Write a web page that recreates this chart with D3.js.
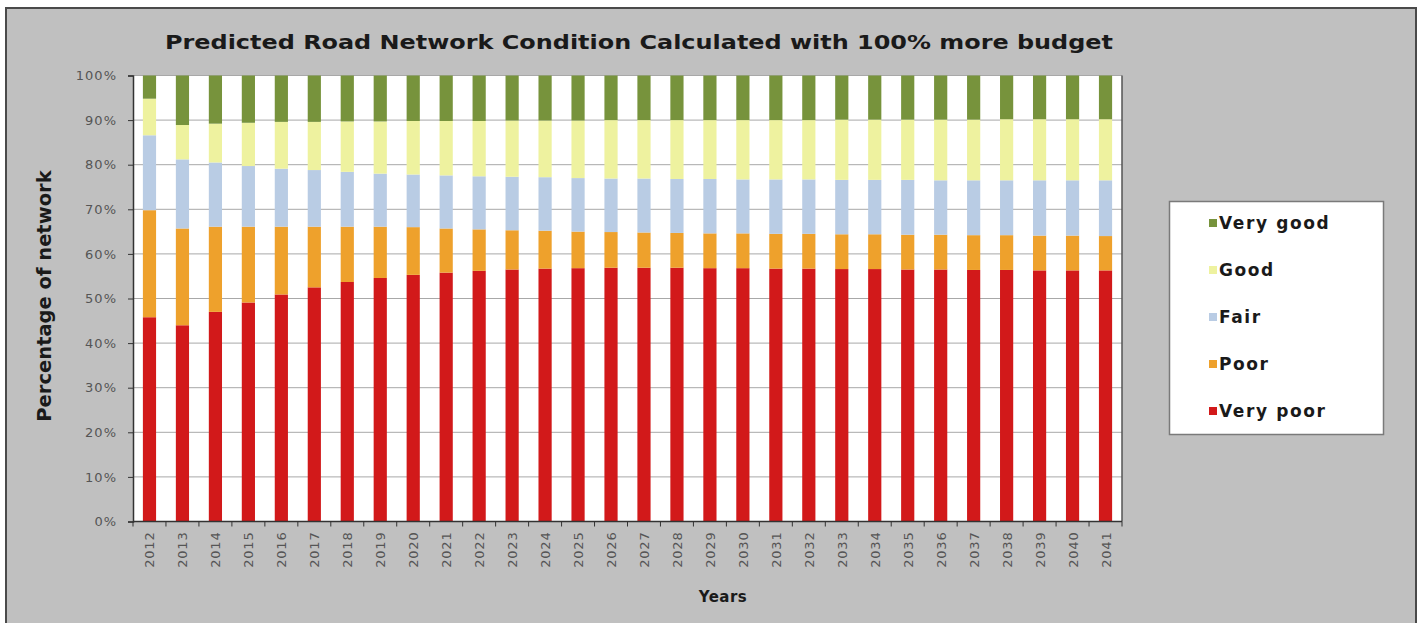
<!DOCTYPE html>
<html>
<head>
<meta charset="utf-8">
<script src="https://cdnjs.cloudflare.com/ajax/libs/d3/7.8.5/d3.min.js"></script>
<style>
  html, body { margin: 0; padding: 0; background: #ffffff; }
  svg { display: block; }
</style>
</head>
<body>
<svg id="chart" width="1421" height="623"></svg>
<script>
// Road network condition shares (% of network) per year
const years = d3.range(2012, 2042).map(String);

const veryPoor = [45.8, 44.0, 47.0, 49.1, 50.9, 52.5, 53.7, 54.6, 55.3, 55.8,
                  56.2, 56.5, 56.7, 56.8, 56.9, 56.9, 56.9, 56.8, 56.8, 56.7,
                  56.7, 56.6, 56.6, 56.5, 56.5, 56.4, 56.4, 56.3, 56.3, 56.3];
const poor     = [24.0, 21.7, 19.1, 17.0, 15.2, 13.6, 12.4, 11.5, 10.7, 9.9,
                  9.3, 8.8, 8.5, 8.2, 8.0, 7.9, 7.8, 7.8, 7.8, 7.8,
                  7.8, 7.8, 7.8, 7.8, 7.8, 7.8, 7.8, 7.8, 7.8, 7.7];
const fair     = [16.8, 15.5, 14.4, 13.6, 13.0, 12.7, 12.3, 11.9, 11.8, 11.9,
                  11.9, 12.0, 12.0, 12.0, 12.0, 12.1, 12.1, 12.2, 12.1, 12.2,
                  12.2, 12.2, 12.2, 12.3, 12.2, 12.3, 12.3, 12.4, 12.4, 12.5];
const good     = [8.2, 7.7, 8.7, 9.7, 10.5, 10.8, 11.3, 11.7, 12.0, 12.2,
                  12.4, 12.6, 12.7, 12.9, 13.1, 13.1, 13.2, 13.2, 13.3, 13.3,
                  13.3, 13.5, 13.5, 13.5, 13.6, 13.6, 13.7, 13.7, 13.7, 13.7];
const veryGood = [5.2, 11.1, 10.8, 10.6, 10.4, 10.4, 10.3, 10.3, 10.2, 10.2,
                  10.2, 10.1, 10.1, 10.1, 10.0, 10.0, 10.0, 10.0, 10.0, 10.0,
                  10.0, 9.9, 9.9, 9.9, 9.9, 9.9, 9.8, 9.8, 9.8, 9.8];

const seriesNames = ["Very poor", "Poor", "Fair", "Good", "Very good"];
const seriesValues = [veryPoor, poor, fair, good, veryGood];
const seriesColors = ["#d2191a", "#eea12c", "#b9cce4", "#eef29f", "#77933c"];
const yTicks = [0, 10, 20, 30, 40, 50, 60, 70, 80, 90, 100];

const titleText = "Predicted Road Network Condition Calculated with 100% more budget";
const yTitle = "Percentage of network";
const xTitle = "Years";

// Table for d3.stack
const rows = years.map((yr, i) => {
  const r = { year: yr };
  seriesNames.forEach((n, k) => { r[n] = seriesValues[k][i]; });
  return r;
});

const FONT = "'DejaVu Sans', Verdana, sans-serif";
const svg = d3.select("#chart");
const W = 1421, H = 623;

// Outer chart frame
svg.append("rect").attr("x", 0).attr("y", 0).attr("width", W).attr("height", H).attr("fill", "#ffffff");
svg.append("rect").attr("x", 6).attr("y", 8).attr("width", 1410).attr("height", 620)
  .attr("fill", "#c0c0c0").attr("stroke", "#4a4a4a").attr("stroke-width", 2);

const plot = { left: 133, right: 1122, top: 75.5, bottom: 521.5 };

const x = d3.scaleBand().domain(years).range([plot.left, plot.right]).paddingInner(0.6).paddingOuter(0.3);
const xCat = d3.scaleBand().domain(years).range([plot.left, plot.right]);
const y = d3.scaleLinear().domain([0, 100]).range([plot.bottom, plot.top]);

// Plot area
svg.append("rect")
  .attr("x", plot.left).attr("y", plot.top)
  .attr("width", plot.right - plot.left).attr("height", plot.bottom - plot.top)
  .attr("fill", "#ffffff");

// Gridlines
svg.append("g")
  .selectAll("line")
  .data(yTicks)
  .join("line")
  .attr("x1", plot.left).attr("x2", plot.right)
  .attr("y1", d => y(d)).attr("y2", d => y(d))
  .attr("stroke", "#a8a8a8").attr("stroke-width", 1);

// Stacked bars
const stack = d3.stack().keys(seriesNames);
const layers = stack(rows);

svg.append("g")
  .selectAll("g")
  .data(layers)
  .join("g")
  .attr("fill", (d, i) => seriesColors[i])
  .selectAll("rect")
  .data(d => d)
  .join("rect")
  .attr("x", d => x(d.data.year))
  .attr("width", x.bandwidth())
  .attr("y", d => y(d[1]))
  .attr("height", d => y(d[0]) - y(d[1]));

// Right border of plot area
svg.append("line")
  .attr("x1", plot.right).attr("x2", plot.right)
  .attr("y1", plot.top).attr("y2", plot.bottom)
  .attr("stroke", "#555555").attr("stroke-width", 1.5);

// Y axis
const yAxis = d3.axisLeft(y).tickValues(yTicks).tickFormat(d => d + "%").tickSize(5).tickPadding(11);
const gy = svg.append("g").attr("transform", `translate(${plot.left},0)`).call(yAxis);
gy.select(".domain").attr("stroke", "#333333").attr("stroke-width", 1.5);
gy.selectAll(".tick line").attr("stroke", "#333333");
gy.selectAll(".tick text")
  .attr("fill", "#555555")
  .style("font-family", FONT)
  .style("font-size", "13px")
  .style("letter-spacing", "1px");

// X axis: ticks at category boundaries
const gx = svg.append("g").attr("transform", `translate(0,${plot.bottom})`);
gx.append("line")
  .attr("x1", plot.left).attr("x2", plot.right)
  .attr("stroke", "#333333").attr("stroke-width", 1.5);
gx.selectAll("line.tk")
  .data(years.concat(["end"]))
  .join("line")
  .attr("class", "tk")
  .attr("x1", (d, i) => i < years.length ? xCat(d) : plot.right)
  .attr("x2", (d, i) => i < years.length ? xCat(d) : plot.right)
  .attr("y1", 0).attr("y2", 5)
  .attr("stroke", "#333333");
gx.selectAll("text")
  .data(years)
  .join("text")
  .attr("transform", d => `translate(${xCat(d) + xCat.bandwidth() / 2 + 5},10) rotate(-90)`)
  .attr("text-anchor", "end")
  .attr("fill", "#555555")
  .style("font-family", FONT)
  .style("font-size", "13px")
  .style("letter-spacing", "0.8px")
  .text(d => d);

// Title
svg.append("text")
  .attr("x", 639).attr("y", 49)
  .attr("text-anchor", "middle")
  .attr("fill", "#1a1a1a")
  .style("font-family", FONT)
  .style("font-weight", "bold")
  .style("font-size", "19.5px")
  .attr("textLength", 948)
  .attr("lengthAdjust", "spacingAndGlyphs")
  .text(titleText);

// Axis titles
svg.append("text")
  .attr("transform", "translate(51,296) rotate(-90)")
  .attr("text-anchor", "middle")
  .attr("fill", "#1a1a1a")
  .style("font-family", FONT)
  .style("font-weight", "bold")
  .style("font-size", "19.5px")
  .text(yTitle);

svg.append("text")
  .attr("x", 723).attr("y", 602)
  .attr("text-anchor", "middle")
  .attr("fill", "#1a1a1a")
  .style("font-family", FONT)
  .style("font-weight", "bold")
  .style("font-size", "15px")
  .style("letter-spacing", "0.5px")
  .text(xTitle);

// Legend
const legend = svg.append("g");
legend.append("rect")
  .attr("x", 1169.5).attr("y", 201.5).attr("width", 214).attr("height", 233)
  .attr("fill", "#ffffff").attr("stroke", "#7a7a7a").attr("stroke-width", 1.5);

const legendOrder = seriesNames.map((n, i) => ({ name: n, color: seriesColors[i] })).reverse();
const items = legend.selectAll("g.item")
  .data(legendOrder)
  .join("g")
  .attr("class", "item")
  .attr("transform", (d, i) => `translate(1209,${223 + i * 47})`);
items.append("rect")
  .attr("x", 0).attr("y", -4).attr("width", 8).attr("height", 8)
  .attr("fill", d => d.color);
items.append("text")
  .attr("x", 10).attr("y", 6)
  .attr("fill", "#1a1a1a")
  .style("font-family", FONT)
  .style("font-weight", "bold")
  .style("font-size", "17px")
  .style("letter-spacing", "1.6px")
  .text(d => d.name);
</script>
</body>
</html>
